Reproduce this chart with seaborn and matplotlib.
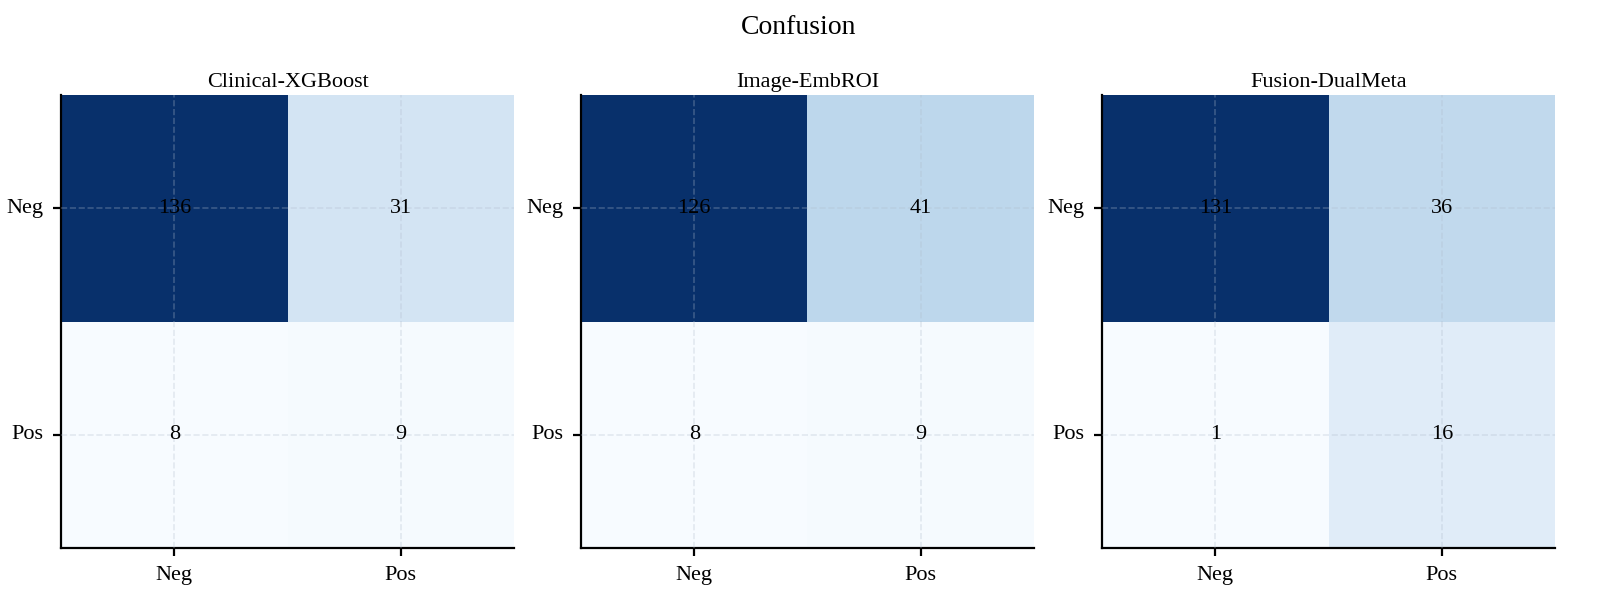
import matplotlib
matplotlib.use("Agg")
import matplotlib.pyplot as plt
import seaborn as sns
import numpy as np
import pandas as pd

sns.set_theme(style="white")
plt.rcParams['font.family'] = ['Liberation Serif', 'DejaVu Serif']
plt.rcParams['text.color'] = 'black'
plt.rcParams['axes.labelcolor'] = 'black'
plt.rcParams['xtick.color'] = 'black'
plt.rcParams['ytick.color'] = 'black'

labels = ["Neg", "Pos"]
model_names = ["Clinical-XGBoost", "Image-EmbROI", "Fusion-DualMeta"]
clinical_cm = [[136, 31], [8, 9]]
image_cm = [[126, 41], [8, 9]]
fusion_cm = [[131, 36], [1, 16]]
matrices = [clinical_cm, image_cm, fusion_cm]

fig = plt.figure(figsize=(7.99, 3.025), dpi=200)
lefts = [61, 581, 1102]
W, H = 1598, 605
for i, (name, cm) in enumerate(zip(model_names, matrices)):
    ax = fig.add_axes([lefts[i] / W, (H - 548) / H, 453 / W, 453 / H])
    df = pd.DataFrame(cm, index=labels, columns=labels)
    arr = np.array(cm)
    sns.heatmap(df, ax=ax, cmap="Blues", vmin=arr.min(), vmax=arr.max(),
                annot=True, fmt="d", cbar=False,
                annot_kws={"color": "black", "fontsize": 8})
    ax.set_title(name, fontsize=8, pad=3, color='black')
    ax.tick_params(axis='both', labelsize=8, length=3, width=0.8,
                   left=True, bottom=True, colors='black')
    ax.set_yticklabels(labels, rotation=0)
    ax.set_xticklabels(labels, rotation=0)
    ax.set_xlabel("")
    ax.set_ylabel("")
    ax.set_axisbelow(False)
    ax.grid(True, linestyle='--', linewidth=0.6, alpha=0.3, color='#b0bccc')
    for s in ["left", "bottom"]:
        ax.spines[s].set_visible(True)
        ax.spines[s].set_color('black')
        ax.spines[s].set_linewidth(0.8)
    for s in ["top", "right"]:
        ax.spines[s].set_visible(False)

fig.suptitle("Confusion", fontsize=10, y=0.975, color='black')
fig.savefig("out.png", dpi=200)
